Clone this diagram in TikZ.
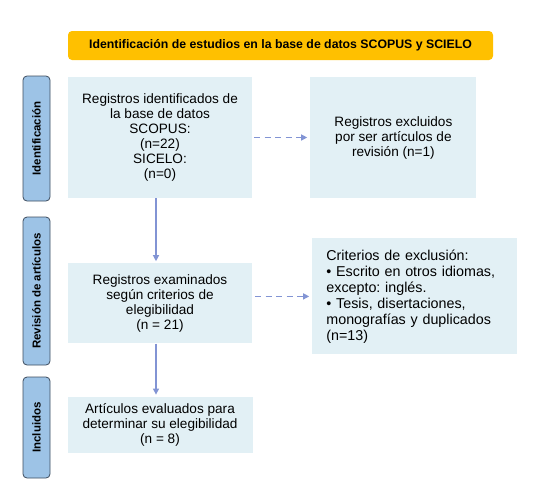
\documentclass[tikz,border=0pt]{standalone}
\usepackage{fontspec}
\setmainfont{Liberation Sans}
\usepackage{xcolor}
\usetikzlibrary{positioning,arrows.meta}
\definecolor{cBox}{HTML}{E2F0F5}
\definecolor{cGold}{HTML}{FFC000}
\definecolor{cSide}{HTML}{9DC3E6}
\definecolor{cEdge}{HTML}{3E4C5E}
\definecolor{cArrow}{HTML}{8294D4}
\frenchspacing

\begin{document}
\begin{tikzpicture}[
  x=1pt,y=-1pt,
  node distance=58pt,
  box/.style={fill=cBox,inner sep=4pt,align=center,
    font=\fontsize{13.6}{15}\selectfont},
  side/.style={draw=cEdge,fill=cSide,rounded corners=4pt,line width=0.8pt,
    rotate=90,minimum height=27pt,inner sep=2pt,
    font=\fontsize{11.5}{13}\selectfont\bfseries},
  ar/.style={-{Triangle[length=6pt,width=6pt]},cArrow,line width=1.2pt},
  dar/.style={ar,dash pattern=on 6pt off 4.5pt}
]
\useasboundingbox (0,0) rectangle (543,483);
\node[fill=cGold,rounded corners=4pt,minimum width=425pt,minimum height=29pt,
      font=\fontsize{12.3}{14}\selectfont\bfseries] (title) at (280.5,45.5)
     {Identificación de estudios en la base de datos SCOPUS y SCIELO};
% --- identificacion ---
\node[box,minimum width=184pt,minimum height=121pt] (regs) at (160,137.5)
     {Registros identificados de\\la base de datos\\SCOPUS:\\(n=22)\\SICELO:\\(n=0)};
\node[box,minimum width=166pt,minimum height=121pt,right=58pt of regs] (excl)
     {Registros excluidos\\por ser artículos de\\revisión (n=1)};
% --- revision ---
\node[box,minimum width=184pt,minimum height=80pt,below=65pt of regs] (exam)
     {Registros examinados\\según criterios de\\elegibilidad\\(n = 21)};
\node[box,text width=177pt,inner xsep=14pt,minimum height=116pt,align=left,
      font=\fontsize{14.3}{16}\selectfont,right=60pt of exam,yshift=7pt] (crit)
     {Criterios de exclusión:\\• Escrito en otros idiomas,\\excepto: inglés.\\• Tesis, disertaciones,\\monografías y duplicados\\(n=13)};
% --- incluidos ---
\node[box,minimum width=185pt,minimum height=56pt,below=53pt of exam] (incl)
     {Artículos evaluados para\\determinar su elegibilidad\\(n = 8)};
% side labels
\node[side,minimum width=125pt] (sIdent) at (36.5,138.5) {Identificación};
\node[side,minimum width=148pt] (sRev) at (36.5,291) {Revisión de artículos};
\node[side,minimum width=101pt] (sIncl) at (36.5,427.5) {Incluidos};

\draw[ar,shorten >=2pt] ([xshift=-4pt]regs.south) -- ([xshift=-4pt]exam.north);
\draw[ar,shorten >=2pt] ([xshift=-4pt]exam.south) -- ([xshift=-4pt]incl.north);
\draw[dar,shorten <=2pt,shorten >=3pt] (regs) -- (excl);
\draw[dar,shorten <=3pt,shorten >=3pt] (exam.east |- crit.west) -- (crit.west);
\end{tikzpicture}
\end{document}
